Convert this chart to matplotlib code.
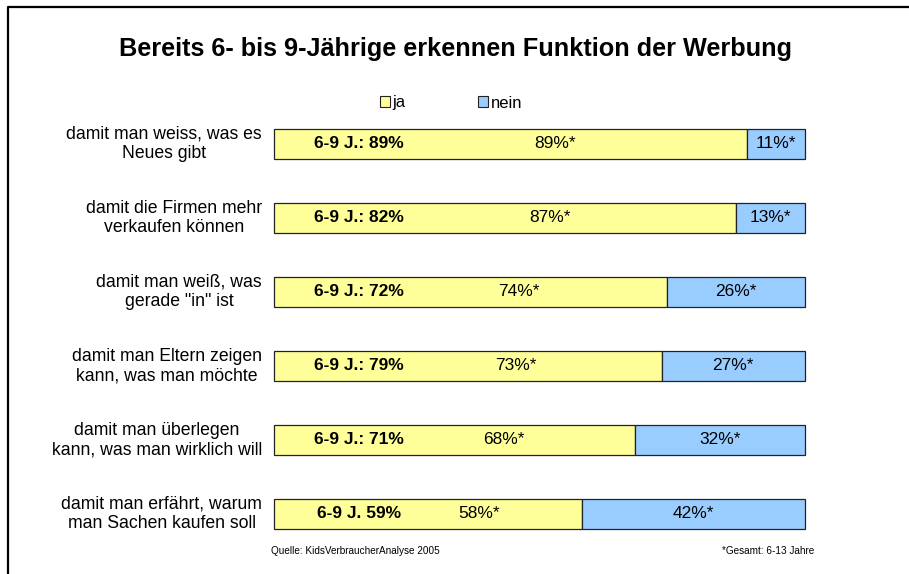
import matplotlib
matplotlib.use("Agg")
import matplotlib.pyplot as plt
from matplotlib.patches import Patch
from matplotlib.lines import Line2D

plt.rcParams['font.family'] = ['Liberation Sans', 'DejaVu Sans']

# data
categories = [
    "damit man weiss, was es\nNeues gibt",
    "damit die Firmen mehr\nverkaufen können",
    "damit man weiß, was\ngerade \"in\" ist",
    "damit man Eltern zeigen\nkann, was man möchte",
    "damit man überlegen\nkann, was man wirklich will",
    "damit man erfährt, warum\nman Sachen kaufen soll",
]
ja = [89, 87, 74, 73, 68, 58]
nein = [11, 13, 26, 27, 32, 42]
kids_labels = ["6-9 J.: 89%", "6-9 J.: 82%", "6-9 J.: 72%",
               "6-9 J.: 79%", "6-9 J.: 71%", "6-9 J. 59%"]

yellow = '#FFFF99'
blue = '#99CCFF'

fig = plt.figure(figsize=(9.09, 5.74), dpi=100)
# bar centres from y=144.5px to y=514px
ax = fig.add_axes([0.3014, 1 - 551 / 574, 0.5842, 444 / 574])

pos = list(range(len(categories)))
ax.barh(pos, ja, height=0.4, color=yellow, edgecolor='#222222', linewidth=0.9,
        clip_on=False)
ax.barh(pos, nein, left=ja, height=0.4, color=blue, edgecolor='#222222', linewidth=0.9,
        clip_on=False)
ax.set_xlim(0, 100)
ax.set_ylim(5.5, -0.5)
ax.axis('off')

for i in pos:
    # bold 6-9 label, then total values
    ax.text(16, i, kids_labels[i], ha='center', va='center',
            fontsize=12.5, fontweight='bold')
    ax.text(12 + 0.46 * ja[i], i, f"{ja[i]}%*", ha='center', va='center',
            fontsize=12.5)
    ax.text(ja[i] + nein[i] / 2, i, f"{nein[i]}%*", ha='center', va='center',
            fontsize=12.5)
    ax.text(-0.0226, i, categories[i], transform=ax.get_yaxis_transform(),
            ha='right', va='center', multialignment='center',
            fontsize=12.7, linespacing=1.17)

fig.text(0.5006, 0.914, "Bereits 6- bis 9-Jährige erkennen Funktion der Werbung",
         ha='center', va='center', fontsize=18.2, fontweight='bold')

handles = [Patch(facecolor=yellow, edgecolor='#222222', linewidth=0.8, label='ja'),
           Patch(facecolor=blue, edgecolor='#222222', linewidth=0.8, label='nein')]
fig.legend(handles=handles, loc='center', bbox_to_anchor=(451 / 909, 1 - 103 / 574),
           ncol=2, frameon=False, fontsize=12, handlelength=0.6, handleheight=0.6,
           handletextpad=0.2, columnspacing=4.3)

fig.text(271 / 909, 1 - 550.5 / 574, "Quelle: KidsVerbraucherAnalyse 2005",
         ha='left', va='center', fontsize=7.2)
fig.text(722 / 909, 1 - 550.5 / 574, "*Gesamt: 6-13 Jahre",
         ha='left', va='center', fontsize=7.2)

# frame lines (left and top only)
fig.add_artist(Line2D([8 / 909, 8 / 909, 1.0], [0.0, 1 - 7 / 574, 1 - 7 / 574],
                      transform=fig.transFigure, color='black', linewidth=1.6))

fig.savefig('out.png', dpi=100)
